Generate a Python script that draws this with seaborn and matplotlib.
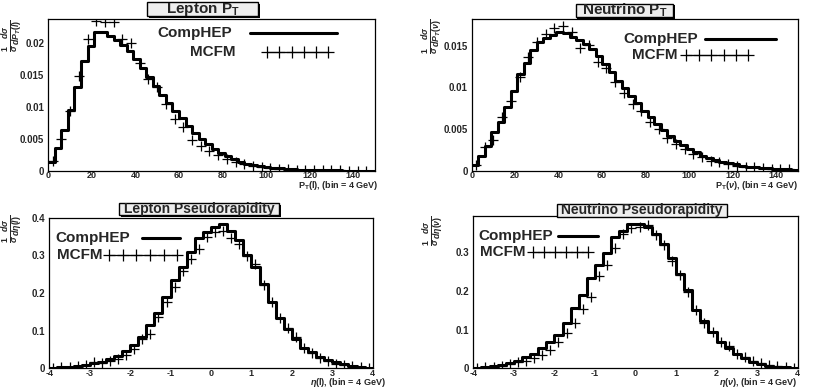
import numpy as np
import pandas as pd
import matplotlib
matplotlib.use("Agg")
import matplotlib.pyplot as plt
import matplotlib.ticker as mtick
from matplotlib.patches import Rectangle
import seaborn as sns

# ---- data ------------------------------------------------------------------
# CompHEP is binned in 3 GeV steps (0..150), MCFM in 4 GeV steps (centres 2..146)
pt_edges_comphep = np.arange(0, 151, 3)
pt_centers_mcfm = np.arange(2, 150, 4)
# pseudorapidity: 0.2 wide bins from -4 to 4 for both generators
eta_edges = np.round(np.arange(-4.0, 4.01, 0.2), 2)
eta_centers = np.round(np.arange(-3.9, 3.91, 0.2), 2)

lep_pt_comphep = [
    0.0014, 0.0036, 0.0064, 0.0095, 0.0130, 0.0172, 0.0195, 0.0216, 0.0216, 0.0211,
    0.0204, 0.0197, 0.0187, 0.0175, 0.0161, 0.0146, 0.0133, 0.0119, 0.0106, 0.0093,
    0.0082, 0.0070, 0.0059, 0.0049, 0.0041, 0.0034, 0.0028, 0.0023, 0.0018, 0.0014,
    0.0011, 0.0009, 0.0007, 0.00055, 0.00045, 0.00035, 0.00028, 0.00022, 0.00017, 0.00013,
    0.00010, 0.00008, 0.00006, 0.00005, 0.00004, 0.00003, 0.00002, 0.00002, 0.00001, 0.00001,
]
lep_pt_mcfm = [
    0.0015, 0.0049, 0.0094, 0.0148, 0.0205, 0.0234, 0.0232, 0.0232, 0.0206, 0.0199,
    0.0168, 0.0143, 0.0131, 0.0104, 0.0081, 0.0069, 0.0048, 0.0038, 0.0031, 0.0025,
    0.0019, 0.0014, 0.0010, 0.0008, 0.0006, 0.0004, 0.0003, 0.0002, 0.00015, 0.0001,
    0.00008, 0.00006, 0.00005, 0.00004, 0.00003, 0.00003, 0.00002,
]

nu_pt_comphep = [
    0.0007, 0.0018, 0.0030, 0.0046, 0.0058, 0.0077, 0.0096, 0.0116, 0.0129, 0.0145,
    0.0155, 0.0159, 0.0163, 0.0166, 0.0165, 0.0160, 0.0157, 0.0152, 0.0146, 0.0138,
    0.0128, 0.0118, 0.0108, 0.0099, 0.0090, 0.0081, 0.0072, 0.0064, 0.0056, 0.0049,
    0.0042, 0.0036, 0.0031, 0.0026, 0.0022, 0.0018, 0.0015, 0.0013, 0.0011, 0.0009,
    0.00075, 0.0006, 0.0005, 0.0004, 0.00035, 0.0003, 0.00025, 0.0002, 0.00017, 0.00014,
]
nu_pt_mcfm = [
    0.0007, 0.0029, 0.0037, 0.0064, 0.0084, 0.0113, 0.0137, 0.0155, 0.0164, 0.0171,
    0.0174, 0.0167, 0.0147, 0.0151, 0.0131, 0.0123, 0.0107, 0.0093, 0.0080, 0.0072,
    0.0058, 0.0050, 0.0039, 0.0032, 0.0026, 0.0020, 0.0016, 0.0012, 0.0010, 0.0008,
    0.0006, 0.0005, 0.0004, 0.0003, 0.00025, 0.0002, 0.00015,
]

lep_eta_comphep = [
    0.002, 0.003, 0.004, 0.006, 0.009, 0.013, 0.018, 0.024, 0.032, 0.045,
    0.062, 0.084, 0.115, 0.148, 0.190, 0.235, 0.270, 0.310, 0.345, 0.362,
    0.375, 0.383, 0.365, 0.342, 0.300, 0.269, 0.225, 0.177, 0.133, 0.105,
    0.079, 0.054, 0.043, 0.031, 0.022, 0.016, 0.011, 0.007, 0.004, 0.002,
]
lep_eta_mcfm = [
    0.002, 0.003, 0.004, 0.006, 0.008, 0.016, 0.014, 0.019, 0.026, 0.035,
    0.052, 0.079, 0.092, 0.136, 0.176, 0.215, 0.258, 0.290, 0.316, 0.350,
    0.362, 0.364, 0.346, 0.330, 0.298, 0.276, 0.222, 0.177, 0.133, 0.108,
    0.083, 0.053, 0.040, 0.028, 0.020, 0.012, 0.008, 0.006, 0.004, 0.002,
]

nu_eta_comphep = [
    0.002, 0.003, 0.005, 0.009, 0.013, 0.019, 0.028, 0.037, 0.052, 0.069,
    0.086, 0.116, 0.155, 0.190, 0.234, 0.267, 0.297, 0.338, 0.355, 0.372,
    0.372, 0.366, 0.346, 0.320, 0.286, 0.243, 0.202, 0.151, 0.122, 0.095,
    0.069, 0.052, 0.036, 0.026, 0.017, 0.011, 0.007, 0.004, 0.003, 0.002,
]
nu_eta_mcfm = [
    0.002, 0.003, 0.004, 0.007, 0.012, 0.016, 0.018, 0.026, 0.035, 0.048,
    0.068, 0.092, 0.118, 0.152, 0.185, 0.238, 0.268, 0.310, 0.346, 0.362,
    0.366, 0.370, 0.343, 0.318, 0.278, 0.242, 0.198, 0.150, 0.118, 0.095,
    0.068, 0.058, 0.036, 0.028, 0.019, 0.013, 0.009, 0.006, 0.004, 0.002,
]

# ---- styling -----------------------------------------------------------------
W, H = 830, 388

sns.set_style("white")
plt.rcParams["font.family"] = ["Liberation Sans", "DejaVu Sans"]
plt.rcParams["font.weight"] = "bold"
plt.rcParams["axes.unicode_minus"] = False
plt.rcParams["mathtext.fontset"] = "custom"
plt.rcParams["mathtext.rm"] = "Liberation Sans"
plt.rcParams["mathtext.it"] = "Liberation Sans:italic"
plt.rcParams["mathtext.bf"] = "Liberation Sans:bold"


def px_box(x0, y0, x1, y1):
    """Pixel box (top-left origin) -> figure fraction rect."""
    return [x0 / W, 1 - y1 / H, (x1 - x0) / W, (y1 - y0) / H]


def add_title_box(fig, box, text, size):
    x0, y0, x1, y1 = box
    shadow = Rectangle((x0 / W + 1.5 / W, 1 - y1 / H - 1.5 / H), (x1 - x0) / W, (y1 - y0) / H,
                       transform=fig.transFigure, facecolor="black", edgecolor="none")
    rect = Rectangle((x0 / W, 1 - y1 / H), (x1 - x0) / W, (y1 - y0) / H,
                     transform=fig.transFigure, facecolor="#eeeeee",
                     edgecolor="black", linewidth=1.0)
    fig.patches.extend([shadow, rect])
    fig.text((x0 + x1) / 2 / W, 1 - (y0 + y1) / 2 / H, text,
             ha="center", va="center", fontsize=size, fontweight="bold")


def add_key(ax, text_x, text_y, label, x0, x1, crosses):
    ax.text(text_x, text_y, label, transform=ax.transAxes, ha="left",
            va="center", fontsize=11, fontweight="bold")
    if crosses:
        ax.plot(np.linspace(x0, x1, 6), [text_y] * 6, transform=ax.transAxes,
                color="black", lw=0.9, marker="+", ms=9, mew=0.9, clip_on=False)
    else:
        ax.plot([x0, x1], [text_y, text_y], transform=ax.transAxes,
                color="black", lw=2.2, clip_on=False)


def draw_panel(ax, edges, comphep, centers, mcfm):
    hist_df = pd.DataFrame({"mid": (edges[:-1] + edges[1:]) / 2, "value": comphep})
    pts_df = pd.DataFrame({"center": centers, "value": mcfm})
    sns.histplot(data=hist_df, x="mid", weights="value", bins=list(edges), element="step",
                 fill=False, color="black", linewidth=2.2, ax=ax)
    sns.scatterplot(data=pts_df, x="center", y="value", marker="+", s=60,
                    color="black", linewidth=0.9, ax=ax, zorder=3)


def style_axes(ax, xlim, ylim, xmajor, xminor, ymajor, yminor):
    ax.set_xlim(*xlim)
    ax.set_ylim(*ylim)
    ax.xaxis.set_major_locator(mtick.MultipleLocator(xmajor))
    ax.xaxis.set_minor_locator(mtick.AutoMinorLocator(xminor))
    ax.yaxis.set_major_locator(mtick.MultipleLocator(ymajor))
    ax.yaxis.set_minor_locator(mtick.AutoMinorLocator(yminor))
    fmt = mtick.FuncFormatter(lambda v, _: f"{v:g}")
    ax.xaxis.set_major_formatter(fmt)
    ax.yaxis.set_major_formatter(fmt)
    ax.tick_params(direction="in", which="both", top=False, right=False)
    ax.tick_params(axis="y", labelsize=7, pad=3)
    ax.tick_params(axis="x", labelsize=6.5, pad=0.5)
    ax.tick_params(axis="y", which="major", length=7, width=0.8)
    ax.tick_params(axis="y", which="minor", length=3.5, width=0.6)
    ax.tick_params(axis="x", which="major", length=4, width=0.8)
    ax.tick_params(axis="x", which="minor", length=2, width=0.6)
    for sp in ax.spines.values():
        sp.set_visible(True)
        sp.set_color("black")
        sp.set_linewidth(0.9)
    ax.set_xlabel("")
    ax.set_ylabel("")


fig = plt.figure(figsize=(W / 100, H / 100), dpi=100)

PANELS = [
    dict(rect=px_box(48.3, 19, 375, 170.7), edges=pt_edges_comphep, comphep=lep_pt_comphep,
         centers=pt_centers_mcfm, mcfm=lep_pt_mcfm, xlim=(0, 150), ylim=(0, 0.0237),
         xmajor=20, xminor=4, ymajor=0.005, yminor=5,
         xlabel=r"P$_\mathbf{T}$(l), (bin = 4 GeV)", xlab_pos=(1.01, -0.1),
         ylabel=r"$\frac{1}{\sigma}\frac{d\sigma}{dP_T(l)}$", ylab_pos=(-0.11, 1.0),
         title="Lepton P$_\\mathbf{T}$", title_box=(147, 2, 258, 16), title_size=11,
         keys=[(0.333, 0.91, "CompHEP", 0.617, 0.883, False),
               (0.434, 0.782, "MCFM", 0.670, 0.857, True)]),
    dict(rect=px_box(471.7, 19, 797.7, 170.7), edges=pt_edges_comphep, comphep=nu_pt_comphep,
         centers=pt_centers_mcfm, mcfm=nu_pt_mcfm, xlim=(0, 150), ylim=(0, 0.0182),
         xmajor=20, xminor=4, ymajor=0.005, yminor=5,
         xlabel=r"P$_\mathbf{T}$($\nu$), (bin = 4 GeV)", xlab_pos=(1.0, -0.1),
         ylabel=r"$\frac{1}{\sigma}\frac{d\sigma}{dP_T(\nu)}$", ylab_pos=(-0.12, 1.0),
         title="Neutrino P$_\\mathbf{T}$", title_box=(575.7, 4, 673.3, 17.3), title_size=11,
         keys=[(0.464, 0.866, "CompHEP", 0.716, 0.934, False),
               (0.492, 0.763, "MCFM", 0.658, 0.849, True)]),
    dict(rect=px_box(49.3, 217.7, 372.7, 368.3), edges=eta_edges, comphep=lep_eta_comphep,
         centers=eta_centers, mcfm=lep_eta_mcfm, xlim=(-4, 4), ylim=(0, 0.4),
         xmajor=1, xminor=5, ymajor=0.1, yminor=5,
         xlabel=r"$\eta$(l), (bin = 4 GeV)", xlab_pos=(1.04, -0.095),
         ylabel=r"$\frac{1}{\sigma}\frac{d\sigma}{d\eta(l)}$", ylab_pos=(-0.115, 1.02),
         title="Lepton Pseudorapidity", title_box=(119.3, 203.3, 279.3, 215), title_size=10,
         keys=[(0.018, 0.863, "CompHEP", 0.286, 0.404, False),
               (0.023, 0.752, "MCFM", 0.186, 0.395, True)]),
    dict(rect=px_box(473.3, 215.7, 797.7, 368.3), edges=eta_edges, comphep=nu_eta_comphep,
         centers=eta_centers, mcfm=nu_eta_mcfm, xlim=(-4, 4), ylim=(0, 0.394),
         xmajor=1, xminor=5, ymajor=0.1, yminor=5,
         xlabel=r"$\eta$($\nu$), (bin = 4 GeV)", xlab_pos=(1.0, -0.095),
         ylabel=r"$\frac{1}{\sigma}\frac{d\sigma}{d\eta(\nu)}$", ylab_pos=(-0.125, 1.0),
         title="Neutrino Pseudorapidity", title_box=(556.7, 204.3, 726.7, 216.7), title_size=10,
         keys=[(0.015, 0.869, "CompHEP", 0.261, 0.385, False),
               (0.021, 0.760, "MCFM", 0.183, 0.355, True)]),
]

for p in PANELS:
    ax = fig.add_axes(p["rect"])
    draw_panel(ax, p["edges"], p["comphep"], p["centers"], p["mcfm"])
    style_axes(ax, p["xlim"], p["ylim"], p["xmajor"], p["xminor"], p["ymajor"], p["yminor"])
    ax.text(*p["xlab_pos"], p["xlabel"], transform=ax.transAxes, ha="right",
            va="center", fontsize=6.5, fontweight="bold")
    ax.text(*p["ylab_pos"], p["ylabel"], transform=ax.transAxes, ha="center",
            va="top", rotation=90, fontsize=9)
    for key in p["keys"]:
        add_key(ax, *key)
    add_title_box(fig, p["title_box"], p["title"], p["title_size"])

fig.savefig("out.png", dpi=100)
